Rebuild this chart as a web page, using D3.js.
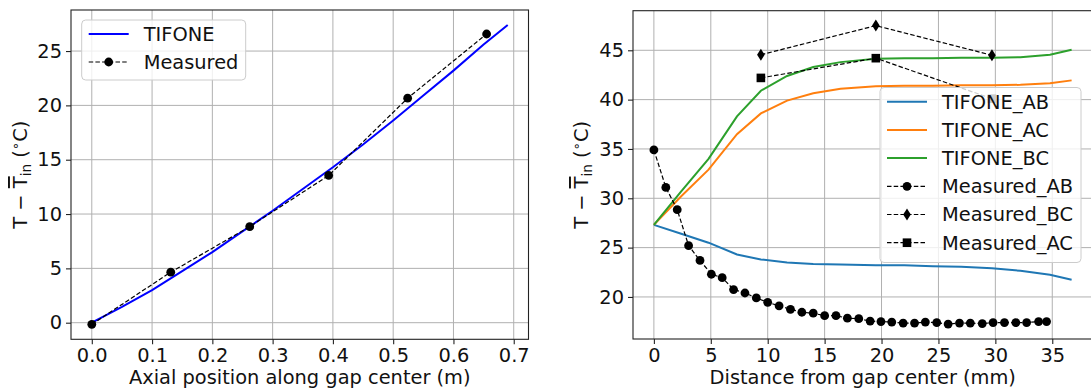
<!DOCTYPE html>
<html>
<head>
<meta charset="utf-8">
<script src="https://cdn.jsdelivr.net/npm/d3@7"></script>
<style>
	body { margin: 0; background: #fff; }
	svg { display: block; font-family: "DejaVu Sans", sans-serif; }
</style>
</head>
<body>
<svg id="chart" width="1091" height="389"></svg>
<script>
// left panel: temperature rise along the gap center
const axialTifoneX = [0, 0.05, 0.1, 0.15, 0.2, 0.25, 0.3, 0.35, 0.4, 0.45, 0.5, 0.55, 0.6, 0.65, 0.69]
const axialTifoneT = [0, 1.45, 3.0, 4.75, 6.5, 8.4, 10.3, 12.3, 14.3, 16.4, 18.6, 20.9, 23.2, 25.6, 27.4]
const axialMeasX = [0, 0.131, 0.262, 0.393, 0.524, 0.655]
const axialMeasT = [-0.15, 4.65, 8.84, 13.55, 20.66, 26.57]
const axialXTicks = [0, 0.1, 0.2, 0.3, 0.4, 0.5, 0.6, 0.7]
const axialYTicks = [0, 5, 10, 15, 20, 25]

// right panel: profiles across the gap
const radialTifoneX = [0, 2.4, 4.8, 7.3, 9.4, 11.7, 14.0, 16.4, 19.5, 22.0, 24.5, 27.0, 29.7, 32.2, 34.8, 36.7]
const tifoneAB = [27.3, 26.4, 25.5, 24.3, 23.8, 23.5, 23.35, 23.28, 23.22, 23.2, 23.12, 23.05, 22.9, 22.65, 22.25, 21.75]
const tifoneAC = [27.3, 30.2, 32.9, 36.5, 38.6, 39.9, 40.65, 41.1, 41.35, 41.4, 41.4, 41.45, 41.45, 41.5, 41.65, 41.95]
const tifoneBC = [27.3, 30.7, 34.0, 38.3, 40.9, 42.4, 43.3, 43.8, 44.15, 44.2, 44.2, 44.25, 44.25, 44.3, 44.55, 45.05]
const measABX = [0, 1.05, 2.05, 3.05, 4.05, 5.05, 6.0, 7.0, 8.0, 9.0, 10.0, 11.0, 12.0, 13.0, 14.0, 15.0, 16.0, 17.0,
	18.0, 19.0, 19.95, 20.9, 21.9, 22.9, 23.85, 24.85, 25.85, 26.85, 27.8, 28.85, 29.8, 30.8, 31.8, 32.75, 33.8, 34.5]
const measABT = [34.9, 31.1, 28.85, 25.2, 23.7, 22.3, 21.95, 20.75, 20.4, 19.9, 19.45, 19.1, 18.75, 18.45, 18.35, 18.1, 18.1, 17.85,
	17.8, 17.55, 17.5, 17.45, 17.35, 17.35, 17.45, 17.4, 17.25, 17.35, 17.35, 17.3, 17.4, 17.4, 17.4, 17.4, 17.5, 17.5]
const measBCX = [9.4, 19.5, 29.7]
const measBCT = [44.55, 47.5, 44.5]
const measACX = [9.4, 19.5, 29.7]
const measACT = [42.2, 44.2, 40.1]
const radialXTicks = [0, 5, 10, 15, 20, 25, 30, 35]
const radialYTicks = [20, 25, 30, 35, 40, 45]

const fontSize = 19.4
const svg = d3.select("#chart")

// matplotlib style 5% margins around the data
function padded(values) {
	const [a, b] = d3.extent(values)
	const m = (b - a) * 0.05
	return [a - m, b + m]
}

function panel(opt) {
	const x = d3.scaleLinear().domain(opt.xDomain).range([opt.left, opt.right])
	const y = d3.scaleLinear().domain(opt.yDomain).range([opt.bottom, opt.top])
	const g = svg.append("g")
	const grid = g.append("g").attr("stroke", "#b0b0b0").attr("stroke-width", 1)
	grid.selectAll(".gx").data(opt.xTicks).join("line")
		.attr("x1", d => x(d)).attr("x2", d => x(d))
		.attr("y1", opt.top).attr("y2", opt.bottom)
	grid.selectAll(".gy").data(opt.yTicks).join("line")
		.attr("y1", d => y(d)).attr("y2", d => y(d))
		.attr("x1", opt.left).attr("x2", opt.right)
	const plot = g.append("g")
	const axes = svg.append("g")
	axes.append("rect")
		.attr("x", opt.left).attr("y", opt.top)
		.attr("width", opt.right - opt.left).attr("height", opt.bottom - opt.top)
		.attr("fill", "none").attr("stroke", "#222").attr("stroke-width", 1.1)
	axes.append("g")
		.attr("transform", "translate(0," + opt.bottom + ")")
		.call(d3.axisBottom(x).tickValues(opt.xTicks).tickFormat(opt.xFormat).tickSize(5).tickPadding(4))
	axes.append("g")
		.attr("transform", "translate(" + opt.left + ",0)")
		.call(d3.axisLeft(y).tickValues(opt.yTicks).tickFormat(d3.format("d")).tickSize(5).tickPadding(4))
	axes.selectAll(".domain").remove()
	axes.selectAll(".tick line").attr("stroke", "#222").attr("stroke-width", 1.1)
	axes.selectAll(".tick text")
		.attr("font-family", "DejaVu Sans").attr("font-size", fontSize).attr("fill", "#111")
	axes.append("text")
		.attr("x", (opt.left + opt.right) / 2).attr("y", 384)
		.attr("text-anchor", "middle").attr("font-size", fontSize).attr("fill", "#111")
		.text(opt.xLabel)
	const yl = axes.append("text")
		.attr("transform", "translate(" + opt.yLabelX + "," + (opt.top + opt.bottom) / 2 + ") rotate(-90)")
		.attr("text-anchor", "middle").attr("font-size", fontSize).attr("fill", "#111")
	yl.append("tspan").text("T \u2212 ")
	yl.append("tspan").style("text-decoration", "overline").text("T")
	yl.append("tspan").attr("dy", 4).attr("font-size", fontSize * 0.7).text("in")
	yl.append("tspan").attr("dy", -4).text(" (")
	yl.append("tspan").attr("dy", -7).attr("font-size", fontSize * 0.7).text("\u2218")
	yl.append("tspan").attr("dy", 7).text("C)")
	return { x, y, plot }
}

function marker(sel, shape) {
	if (shape === "circle") return sel.append("circle").attr("r", 4.4).attr("fill", "#000")
	if (shape === "diamond") return sel.append("path").attr("d", "M0,-6L3.8,0L0,6L-3.8,0Z").attr("fill", "#000")
	return sel.append("rect").attr("x", -4.3).attr("y", -4.3).attr("width", 8.6).attr("height", 8.6).attr("fill", "#000")
}

function drawLine(p, xs, ys, color) {
	const pts = xs.map((d, i) => [d, ys[i]])
	p.plot.append("path")
		.datum(pts)
		.attr("fill", "none").attr("stroke", color).attr("stroke-width", 2)
		.attr("d", d3.line().x(d => p.x(d[0])).y(d => p.y(d[1])))
}

function drawMeasured(p, xs, ys, shape) {
	const pts = xs.map((d, i) => [d, ys[i]])
	p.plot.append("path")
		.datum(pts)
		.attr("fill", "none").attr("stroke", "#000").attr("stroke-width", 1.2)
		.attr("stroke-dasharray", "4.5,2.2")
		.attr("d", d3.line().x(d => p.x(d[0])).y(d => p.y(d[1])))
	p.plot.append("g").selectAll("g").data(pts).join("g")
		.attr("transform", d => "translate(" + p.x(d[0]) + "," + p.y(d[1]) + ")")
		.each(function() { marker(d3.select(this), shape) })
}

function legend(box, rows) {
	const g = svg.append("g")
	g.append("rect")
		.attr("x", box.x).attr("y", box.y).attr("width", box.w).attr("height", box.h)
		.attr("rx", 4).attr("fill", "#fff").attr("fill-opacity", 0.8)
		.attr("stroke", "#ccc").attr("stroke-width", 1)
	rows.forEach((r, i) => {
		const cy = box.firstRow + i * box.step
		const hx = box.x + 7
		g.append("line")
			.attr("x1", hx).attr("x2", hx + 40).attr("y1", cy).attr("y2", cy)
			.attr("stroke", r.color).attr("stroke-width", r.shape ? 1.2 : 2)
			.attr("stroke-dasharray", r.shape ? "4.5,2.2" : null)
		if (r.shape) marker(g.append("g").attr("transform", "translate(" + (hx + 20) + "," + cy + ")"), r.shape)
		g.append("text")
			.attr("x", hx + 55).attr("y", cy).attr("dy", "0.36em")
			.attr("font-size", fontSize).attr("fill", "#111")
			.text(r.label)
	})
}

// left panel
const left = panel({
	left: 71, right: 528.5, top: 10, bottom: 339.3,
	xDomain: padded(axialTifoneX.concat(axialMeasX)),
	yDomain: padded(axialTifoneT.concat(axialMeasT)),
	xTicks: axialXTicks, yTicks: axialYTicks,
	xFormat: d3.format(".1f"),
	xLabel: "Axial position along gap center (m)",
	yLabelX: 27,
})
drawLine(left, axialTifoneX, axialTifoneT, "#0000ff")
drawMeasured(left, axialMeasX, axialMeasT, "circle")
legend({ x: 81.7, y: 20, w: 164, h: 60, firstRow: 34, step: 28 }, [
	{ label: "TIFONE", color: "#0000ff" },
	{ label: "Measured", color: "#000", shape: "circle" },
])

// right panel
const right = panel({
	left: 633, right: 1092.5, top: 10.7, bottom: 339,
	xDomain: padded(radialTifoneX.concat(measABX)),
	yDomain: padded(measABT.concat(measBCT, tifoneBC)),
	xTicks: radialXTicks, yTicks: radialYTicks,
	xFormat: d3.format("d"),
	xLabel: "Distance from gap center (mm)",
	yLabelX: 588,
})
drawLine(right, radialTifoneX, tifoneAB, "#1f77b4")
drawLine(right, radialTifoneX, tifoneAC, "#ff7f0e")
drawLine(right, radialTifoneX, tifoneBC, "#2ca02c")
drawMeasured(right, measABX, measABT, "circle")
drawMeasured(right, measBCX, measBCT, "diamond")
drawMeasured(right, measACX, measACT, "square")
legend({ x: 880, y: 87.5, w: 201, h: 175, firstRow: 101.7, step: 28.2 }, [
	{ label: "TIFONE_AB", color: "#1f77b4" },
	{ label: "TIFONE_AC", color: "#ff7f0e" },
	{ label: "TIFONE_BC", color: "#2ca02c" },
	{ label: "Measured_AB", color: "#000", shape: "circle" },
	{ label: "Measured_BC", color: "#000", shape: "diamond" },
	{ label: "Measured_AC", color: "#000", shape: "square" },
])
</script>
</body>
</html>
